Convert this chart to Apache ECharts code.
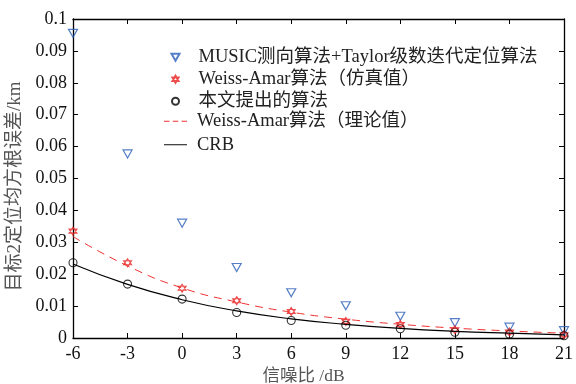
<!DOCTYPE html>
<html>
<head>
<meta charset="utf-8">
<script src="https://cdn.jsdelivr.net/npm/echarts@6/dist/echarts.min.js"></script>
<style>
  html, body { margin: 0; padding: 0; background: #fff; }
  #chart { width: 576px; height: 384px; }
</style>
</head>
<body>
<div id="chart"></div>
<script>
// 信噪比 (dB)
const snr = [-6, -3, 0, 3, 6, 9, 12, 15, 18, 21];
// 各算法的定位均方根误差 (km)
const musicTaylor = [0.0955, 0.0577, 0.0360, 0.0221, 0.0142, 0.0101, 0.0068, 0.0048, 0.0034, 0.0023];
const weissSim    = [0.0335, 0.0236, 0.0156, 0.0117, 0.0083, 0.0052, 0.0042, 0.0026, 0.0019, 0.0010];
const proposed    = [0.0236, 0.0169, 0.0122, 0.0080, 0.0055, 0.0040, 0.0029, 0.0018, 0.0012, 0.0007];
const weissTheory = [0.0318, 0.0226, 0.0157, 0.0113, 0.0081, 0.0059, 0.0043, 0.0031, 0.0022, 0.0015];
const crb         = [0.0232, 0.0168, 0.0120, 0.0085, 0.0060, 0.0043, 0.0030, 0.0021, 0.0015, 0.0010];

const names = ['MUSIC测向算法+Taylor级数迭代定位算法', 'Weiss-Amar算法（仿真值）', '本文提出的算法', 'Weiss-Amar算法（理论值）', 'CRB'];

const pairs = arr => snr.map((x, i) => [x, arr[i]]);
const hexagram = 'path://M5,0 L9.33,7.5 L0.67,7.5 Z M5,10 L0.67,2.5 L9.33,2.5 Z';
const triDown = 'path://M0,0 L10,0 L5,8.66 Z';
const solidIcon = 'path://M0,0 L24,0 L24,1 L0,1 Z';
const dashIcon = 'path://M0,0 L5,0 L5,1 L0,1 Z M8,0 L13,0 L13,1 L8,1 Z M16,0 L21,0 L21,1 L16,1 Z';
const font = '"Liberation Serif", "Times New Roman", "Noto Sans CJK SC", serif';
const legendText = { fontSize: 18.5, color: '#222', fontFamily: font };

let chart = echarts.init(document.getElementById('chart'));
let frameAxis = {
  axisLine: { show: true, onZero: false, lineStyle: { color: '#000', width: 1.3 } },
  axisTick: { inside: true, length: 5, lineStyle: { color: '#000' } },
  splitLine: { show: false }
};
let option = {
  backgroundColor: '#fff',
  animation: false,
  textStyle: { fontFamily: font },
  grid: { left: 73, right: 12, top: 19, bottom: 46, outerBoundsMode: 'none', containLabel: false },
  legend: [
    {
      orient: 'vertical', left: 169, top: 48, padding: 0,
      itemWidth: 8, itemHeight: 7, itemGap: 3.5,
      data: [
        { name: names[0], icon: triDown },
        { name: names[1], icon: hexagram },
        { name: names[2], icon: 'circle' }
      ],
      textStyle: Object.assign({ padding: [0, 0, 0, 14] }, legendText)
    },
    {
      orient: 'vertical', left: 164, top: 112, padding: 0,
      itemWidth: 23, itemHeight: 1.2, itemGap: 5,
      data: [
        { name: names[3], icon: dashIcon },
        { name: names[4], icon: solidIcon }
      ],
      textStyle: Object.assign({ padding: [0, 0, 0, 5] }, legendText)
    }
  ],
  xAxis: [
    Object.assign({
      type: 'value', min: -6, max: 21, interval: 3,
      name: '信噪比 /dB', nameLocation: 'middle', nameGap: 25,
      nameTextStyle: { fontSize: 17.5, color: '#555', fontFamily: font, padding: [0, 30, 0, 0] },
      axisLabel: { fontSize: 18, color: '#111', margin: 7 }
    }, frameAxis),
    Object.assign({
      type: 'value', min: -6, max: 21, interval: 3, position: 'top',
      axisLabel: { show: false }
    }, frameAxis)
  ],
  yAxis: [
    Object.assign({
      type: 'value', min: 0, max: 0.1, interval: 0.01,
      name: '目标2定位均方根误差/km', nameLocation: 'middle', nameGap: 47,
      nameTextStyle: { fontSize: 19, color: '#555', fontFamily: font, padding: [0, 16, 0, 0] },
      axisLabel: { fontSize: 18, color: '#111', margin: 6, formatter: v => String(+v.toFixed(2)) }
    }, frameAxis),
    Object.assign({
      type: 'value', min: 0, max: 0.1, interval: 0.01, position: 'right',
      axisLabel: { show: false }
    }, frameAxis)
  ],
  series: [
    {
      name: names[0], type: 'scatter', data: pairs(musicTaylor),
      symbol: triDown, symbolSize: [9, 8],
      itemStyle: { color: 'none', borderColor: '#2b5fb8', borderWidth: 1.2 }
    },
    {
      name: names[1], type: 'scatter', data: pairs(weissSim),
      symbol: hexagram, symbolSize: 8,
      itemStyle: { color: 'none', borderColor: '#e82020', borderWidth: 1.1 }
    },
    {
      name: names[2], type: 'scatter', data: pairs(proposed),
      symbol: 'circle', symbolSize: 8,
      itemStyle: { color: 'none', borderColor: '#000', borderWidth: 1.1 }
    },
    {
      name: names[3], type: 'line', data: pairs(weissTheory), smooth: true,
      showSymbol: false, symbol: 'none',
      lineStyle: { color: '#f03030', width: 1, type: [8, 6] },
      itemStyle: { color: '#f03030' }
    },
    {
      name: names[4], type: 'line', data: pairs(crb), smooth: true,
      showSymbol: false, symbol: 'none',
      lineStyle: { color: '#000', width: 1.2 },
      itemStyle: { color: '#000' }
    }
  ]
};
chart.setOption(option);
</script>
</body>
</html>
